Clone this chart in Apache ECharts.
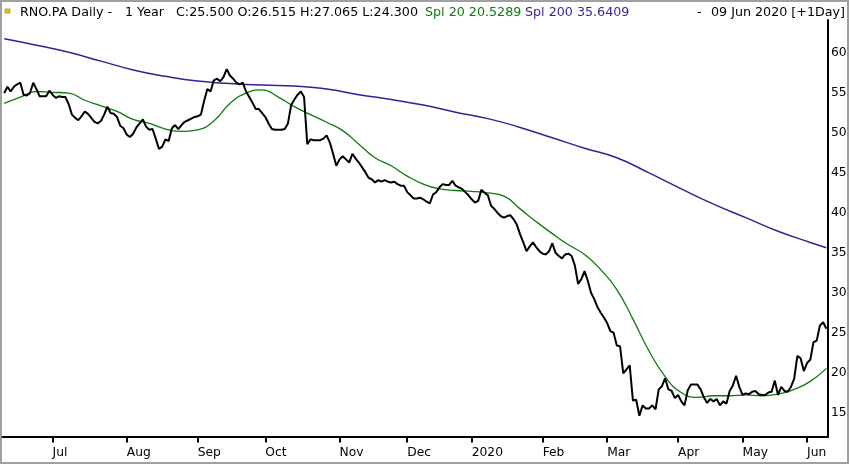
<!DOCTYPE html>
<html><head><meta charset="utf-8">
<script src="https://cdn.jsdelivr.net/npm/echarts@6/dist/echarts.min.js"></script>
<style>html,body{margin:0;padding:0;background:#fff}#c{width:850px;height:465px}</style>
</head><body><div id="c"></div>
<script>
// Trading calendar (Euronext Paris), 10 Jun 2019 .. 09 Jun 2020
const firstDay = [2019, 5, 10];
const lastDay = [2020, 5, 9];
const holidays = ['2019-12-25','2019-12-26','2020-01-01','2020-04-10','2020-04-13','2020-05-01'];
const monthAbbr = ['Jan','Feb','Mar','Apr','May','Jun','Jul','Aug','Sep','Oct','Nov','Dec'];
const yTicks = [15,20,25,30,35,40,45,50,55,60];

// Daily close, RNO.PA
const close = [
55.0,55.8,55.2,55.8,56.1,56.3,54.8,54.7,55.0,56.3,
55.5,54.6,54.6,54.6,55.3,54.8,54.4,54.6,54.5,54.5,
53.6,52.3,51.9,51.6,52.1,52.7,52.4,51.9,51.4,51.2,
51.5,52.3,53.3,52.5,52.4,52.0,50.9,50.6,49.8,49.5,
49.9,50.7,51.2,51.7,50.8,50.4,50.5,49.3,48.0,48.3,
49.2,49.0,50.6,51.0,50.5,51.0,51.4,51.6,51.8,52.0,
52.1,52.3,54.0,55.5,55.2,56.6,56.8,56.5,57.0,58.0,
57.2,56.8,56.3,56.1,56.3,55.2,54.5,53.8,53.0,53.0,
52.5,52.0,51.2,50.5,50.4,50.4,50.4,50.5,51.2,53.5,
54.2,54.8,55.2,54.5,48.6,49.2,49.1,49.1,49.1,49.3,
49.7,48.8,47.4,45.9,46.7,47.1,46.7,46.3,47.4,46.8,
46.3,45.7,45.1,44.4,44.2,43.8,44.1,43.9,44.1,43.9,
43.8,43.9,43.6,43.4,43.4,42.6,42.2,41.8,41.8,41.9,
41.7,41.4,41.2,42.3,42.6,43.2,43.6,43.5,43.5,44.0,
43.4,43.2,43.0,42.6,42.2,41.7,41.3,41.5,42.9,42.5,
42.2,40.9,40.5,40.0,39.6,39.4,39.6,39.7,39.2,38.5,
37.3,36.3,35.2,35.8,36.3,35.7,35.2,34.9,34.8,35.2,
36.2,35.0,34.6,34.3,34.8,34.9,34.6,33.4,31.1,31.7,
32.7,31.5,30.0,29.2,28.2,27.5,26.9,26.2,25.2,25.0,
23.4,23.3,19.9,20.4,20.9,16.5,16.6,14.6,15.9,15.5,
15.5,15.9,15.4,17.9,18.3,19.3,17.9,17.7,16.8,17.2,
16.4,15.9,17.8,18.5,18.5,18.5,17.9,16.9,16.2,16.7,
16.4,16.7,15.9,16.4,16.1,17.7,18.4,19.6,18.2,17.2,
17.4,17.3,17.6,17.7,17.3,17.2,17.2,17.5,17.6,19.0,
17.2,18.2,17.7,17.6,18.2,19.2,22.1,21.8,20.2,21.2,
21.6,23.8,24.0,25.9,26.3,25.5
];

// Spl 20 read every 5 trading days
const sma20Days = [0,5,10,15,20,25,30,35,40,45,50,55,60,65,70,75,80,85,90,95,100,105,110,115,120,125,130,135,140,145,150,155,160,165,170,175,180,185,190,195,200,205,210,215,220,225,230,235,240,245,250,255];
const sma20 = [53.7,54.5,55.2,55.1,55.0,54.1,53.4,52.7,51.7,51.2,50.5,50.2,50.4,51.5,53.7,55.0,55.4,54.5,53.3,52.3,51.35,50.3,48.6,46.9,45.9,44.6,43.6,43.0,42.8,42.7,42.5,42.1,40.5,38.9,37.4,36.0,34.8,32.9,30.4,26.7,22.7,19.5,17.5,16.9,17.1,17.1,17.2,17.1,17.3,17.9,18.9,20.53];

// Spl 200 read every 10 trading days
const sma200Days = [0,10,20,30,40,50,60,70,80,90,100,110,120,130,140,150,160,170,180,190,200,210,220,230,240,250,255];
const sma200 = [61.8,61.0,60.1,59.0,57.9,57.1,56.5,56.2,56.0,55.9,55.5,54.8,54.2,53.5,52.6,51.8,50.7,49.4,48.1,46.9,45.0,43.0,41.1,39.4,37.7,36.3,35.64];

function buildDates() {
  const out = [];
  const d = new Date(Date.UTC(firstDay[0], firstDay[1], firstDay[2]));
  const end = Date.UTC(lastDay[0], lastDay[1], lastDay[2]);
  while (d.getTime() <= end) {
    const wd = d.getUTCDay();
    const s = d.toISOString().slice(0, 10);
    if (wd !== 0 && wd !== 6 && holidays.indexOf(s) < 0) out.push(s);
    d.setUTCDate(d.getUTCDate() + 1);
  }
  return out;
}
const dates = buildDates();
const isMonthStart = (idx) => idx > 0 && dates[idx].slice(5, 7) !== dates[idx - 1].slice(5, 7);

const FONT = 'DejaVu Sans';
const HFONT = '12.7px "DejaVu Sans"';
const chart = echarts.init(document.getElementById('c'), null, {renderer: 'canvas'});
chart.setOption({
  animation: false,
  backgroundColor: '#ffffff',
  grid: {left: 2.6, right: 22, top: 20, bottom: 28.5},
  xAxis: {
    type: 'category',
    data: dates,
    boundaryGap: true,
    axisLine: {show: true, onZero: false, lineStyle: {color: '#000', width: 2}},
    axisTick: {show: true, alignWithLabel: true, interval: (i) => isMonthStart(i), length: 6, lineStyle: {color: '#000', width: 2}},
    axisLabel: {
      interval: (i) => isMonthStart(i),
      formatter: (v) => { const m = +v.slice(5, 7); return m === 1 ? v.slice(0, 4) : monthAbbr[m - 1]; },
      align: 'left', margin: 10, color: '#000', fontFamily: FONT, fontSize: 12.3
    },
    splitLine: {show: false}
  },
  yAxis: {
    type: 'value', position: 'right', min: 12.0, max: 64.15,
    axisLine: {show: true, lineStyle: {color: '#000', width: 2}},
    axisTick: {show: false},
    splitLine: {show: false},
    axisLabel: {customValues: yTicks, color: '#000', fontFamily: FONT, fontSize: 12.3, margin: 3}
  },
  series: [
    {name: 'Spl 200', type: 'line', smooth: true, symbol: 'none', z: 2,
     data: sma200Days.map((d, k) => [d, sma200[k]]),
     lineStyle: {color: '#3b1e96', width: 1.5}},
    {name: 'Spl 20', type: 'line', smooth: true, symbol: 'none', z: 3,
     data: sma20Days.map((d, k) => [d, sma20[k]]),
     lineStyle: {color: '#0e7a0e', width: 1.3}},
    {name: 'Close', type: 'line', symbol: 'none', z: 4,
     data: close,
     lineStyle: {color: '#000', width: 2}}
  ],
  graphic: [
    {type: 'rect', shape: {x: 1, y: 1, width: 847, height: 462}, style: {fill: 'none', stroke: '#a0a0a0', lineWidth: 2}, silent: true},
    {type: 'rect', shape: {x: 5, y: 9, width: 5, height: 4}, style: {fill: '#e6cc00', stroke: '#8a7a00', lineWidth: 0.6}},
    {type: 'text', x: 20, y: 12.5, style: {text: 'RNO.PA Daily -', fill: '#000', font: HFONT, verticalAlign: 'middle'}},
    {type: 'text', x: 125, y: 12.5, style: {text: '1 Year', fill: '#000', font: HFONT, verticalAlign: 'middle'}},
    {type: 'text', x: 176, y: 12.5, style: {text: 'C:25.500 O:26.515 H:27.065 L:24.300', fill: '#000', font: HFONT, verticalAlign: 'middle'}},
    {type: 'text', x: 425, y: 12.5, style: {text: 'Spl 20 20.5289', fill: '#0e7a0e', font: HFONT, verticalAlign: 'middle'}},
    {type: 'text', x: 525, y: 12.5, style: {text: 'Spl 200 35.6409', fill: '#3b1e96', font: HFONT, verticalAlign: 'middle'}},
    {type: 'text', x: 697, y: 12.5, style: {text: '-', fill: '#000', font: HFONT, verticalAlign: 'middle'}},
    {type: 'text', x: 845, y: 12.5, style: {text: '09 Jun 2020 [+1Day]', fill: '#000', font: HFONT, verticalAlign: 'middle', align: 'right'}}
  ]
});
</script>
</body></html>
